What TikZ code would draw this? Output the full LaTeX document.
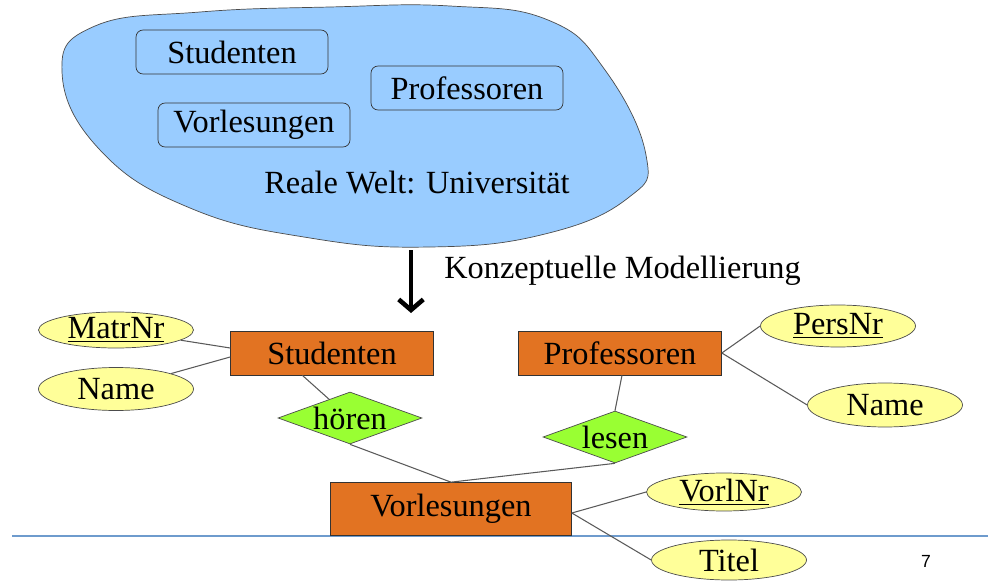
\documentclass[tikz,border=0pt]{standalone}
\usepackage{fontspec}
\setmainfont{Liberation Serif}
\newfontfamily\seitenfont{Liberation Sans}
\usetikzlibrary{shapes.geometric,arrows.meta}
\definecolor{weltblau}{RGB}{153,204,255}
\definecolor{entorange}{RGB}{226,115,34}
\definecolor{attrgelb}{RGB}{255,255,153}
\definecolor{relgruen}{RGB}{153,255,51}
\definecolor{linieblau}{RGB}{110,155,205}
\begin{document}
\begin{tikzpicture}[x=0.02cm,y=-0.02cm,
	every node/.style={font=\fontsize{18.4}{21}\selectfont},
	welt/.style={draw=black!80,fill=weltblau,rounded corners=4pt,minimum width=3.84cm,minimum height=0.88cm,inner sep=0pt},
	entity/.style={draw=black!80,fill=entorange,minimum width=4.06cm,minimum height=0.88cm,inner sep=0pt},
	attr/.style={ellipse,draw=black!70,fill=attrgelb,minimum width=3.1cm,minimum height=0.8cm,inner sep=0pt},
	rel/.style={diamond,draw=black!70,fill=relgruen,aspect=2.77,minimum width=2.88cm,minimum height=1.04cm,inner sep=0pt},
	verb/.style={draw=black!65,line width=0.6pt}]
		\useasboundingbox (0,0) rectangle (988,581);
		
		%linie folie
		\draw[linieblau,line width=1pt] (12,536) -- (988,536);
		
		%reale welt
		\filldraw[fill=weltblau,draw=black!70,thin] plot[smooth cycle,tension=0.75] coordinates {
			(62,72) (95,26) (200,12) (330,7) (450,6) (548,20) (605,70)
			(646,155) (628,198) (545,234) (430,247) (310,238) (190,208) (100,150)};
		\node[welt] (wstud) at (232,52) {Studenten};
		\node[welt] (wprof) at (467,88) {Professoren};
		\node[welt] (wvorl) at (254,125) {Vorlesungen};
		\node (weltlabel) at (417,183) {Reale Welt: Universität};
		
		%pfeil
		\coordinate (pfeilA) at (411,250);
		\coordinate (pfeilB) at (411,313);
		\draw[line width=2.6pt,-{Straight Barb[length=6pt,width=14pt]}] (pfeilA) -- (pfeilB);
		\node[anchor=west,inner sep=0pt] (modell) at (444,271) {Konzeptuelle Modellierung};
		
		%entities
		\node[entity] (stud) at (332,353) {Studenten};
		\node[entity] (prof) at (620,353) {Professoren};
		\node[entity,minimum width=4.82cm,minimum height=1.06cm] (vorl) at (451,509) {Vorlesungen};
		
		%attribute
		\node[attr,minimum height=0.72cm] (matrnr) at (116,330) {\underline{MatrNr}};
		\node[attr,minimum height=0.86cm] (sname) at (116,389) {Name};
		\node[attr,minimum height=0.84cm] (persnr) at (838,326) {\underline{PersNr}};
		\node[attr,minimum height=0.88cm] (pname) at (885,405) {Name};
		\node[attr,minimum height=0.76cm] (vorlnr) at (724,492) {\underline{VorlNr}};
		\node[attr] (titel) at (729,560) {Titel};
		
		%beziehungen
		\node[rel] (hoeren) at (350,418) {hören};
		\node[rel] (lesen) at (615,437) {lesen};
		
		\draw[verb] (matrnr) -- ([yshift=0.1cm]stud.west);
		\draw[verb] (sname) -- ([yshift=-0.08cm]stud.west);
		\draw[verb] (stud.217) -- (hoeren);
		\draw[verb] (hoeren.south) -- (vorl.north);
		\draw[verb] ([xshift=0.04cm]prof.south) -- (lesen.north);
		\draw[verb] (lesen.south) -- (vorl.north);
		\draw[verb] (prof.east) -- (persnr.west);
		\draw[verb] (prof.east) -- (pname.west);
		\draw[verb] ([yshift=-0.08cm]vorl.east) -- (vorlnr.west);
		\draw[verb] ([yshift=-0.08cm]vorl.east) -- (titel.west);
		
		\node[font=\seitenfont\fontsize{10}{12}\selectfont] (seite) at (926,561) {7};
	\end{tikzpicture}
\end{document}
